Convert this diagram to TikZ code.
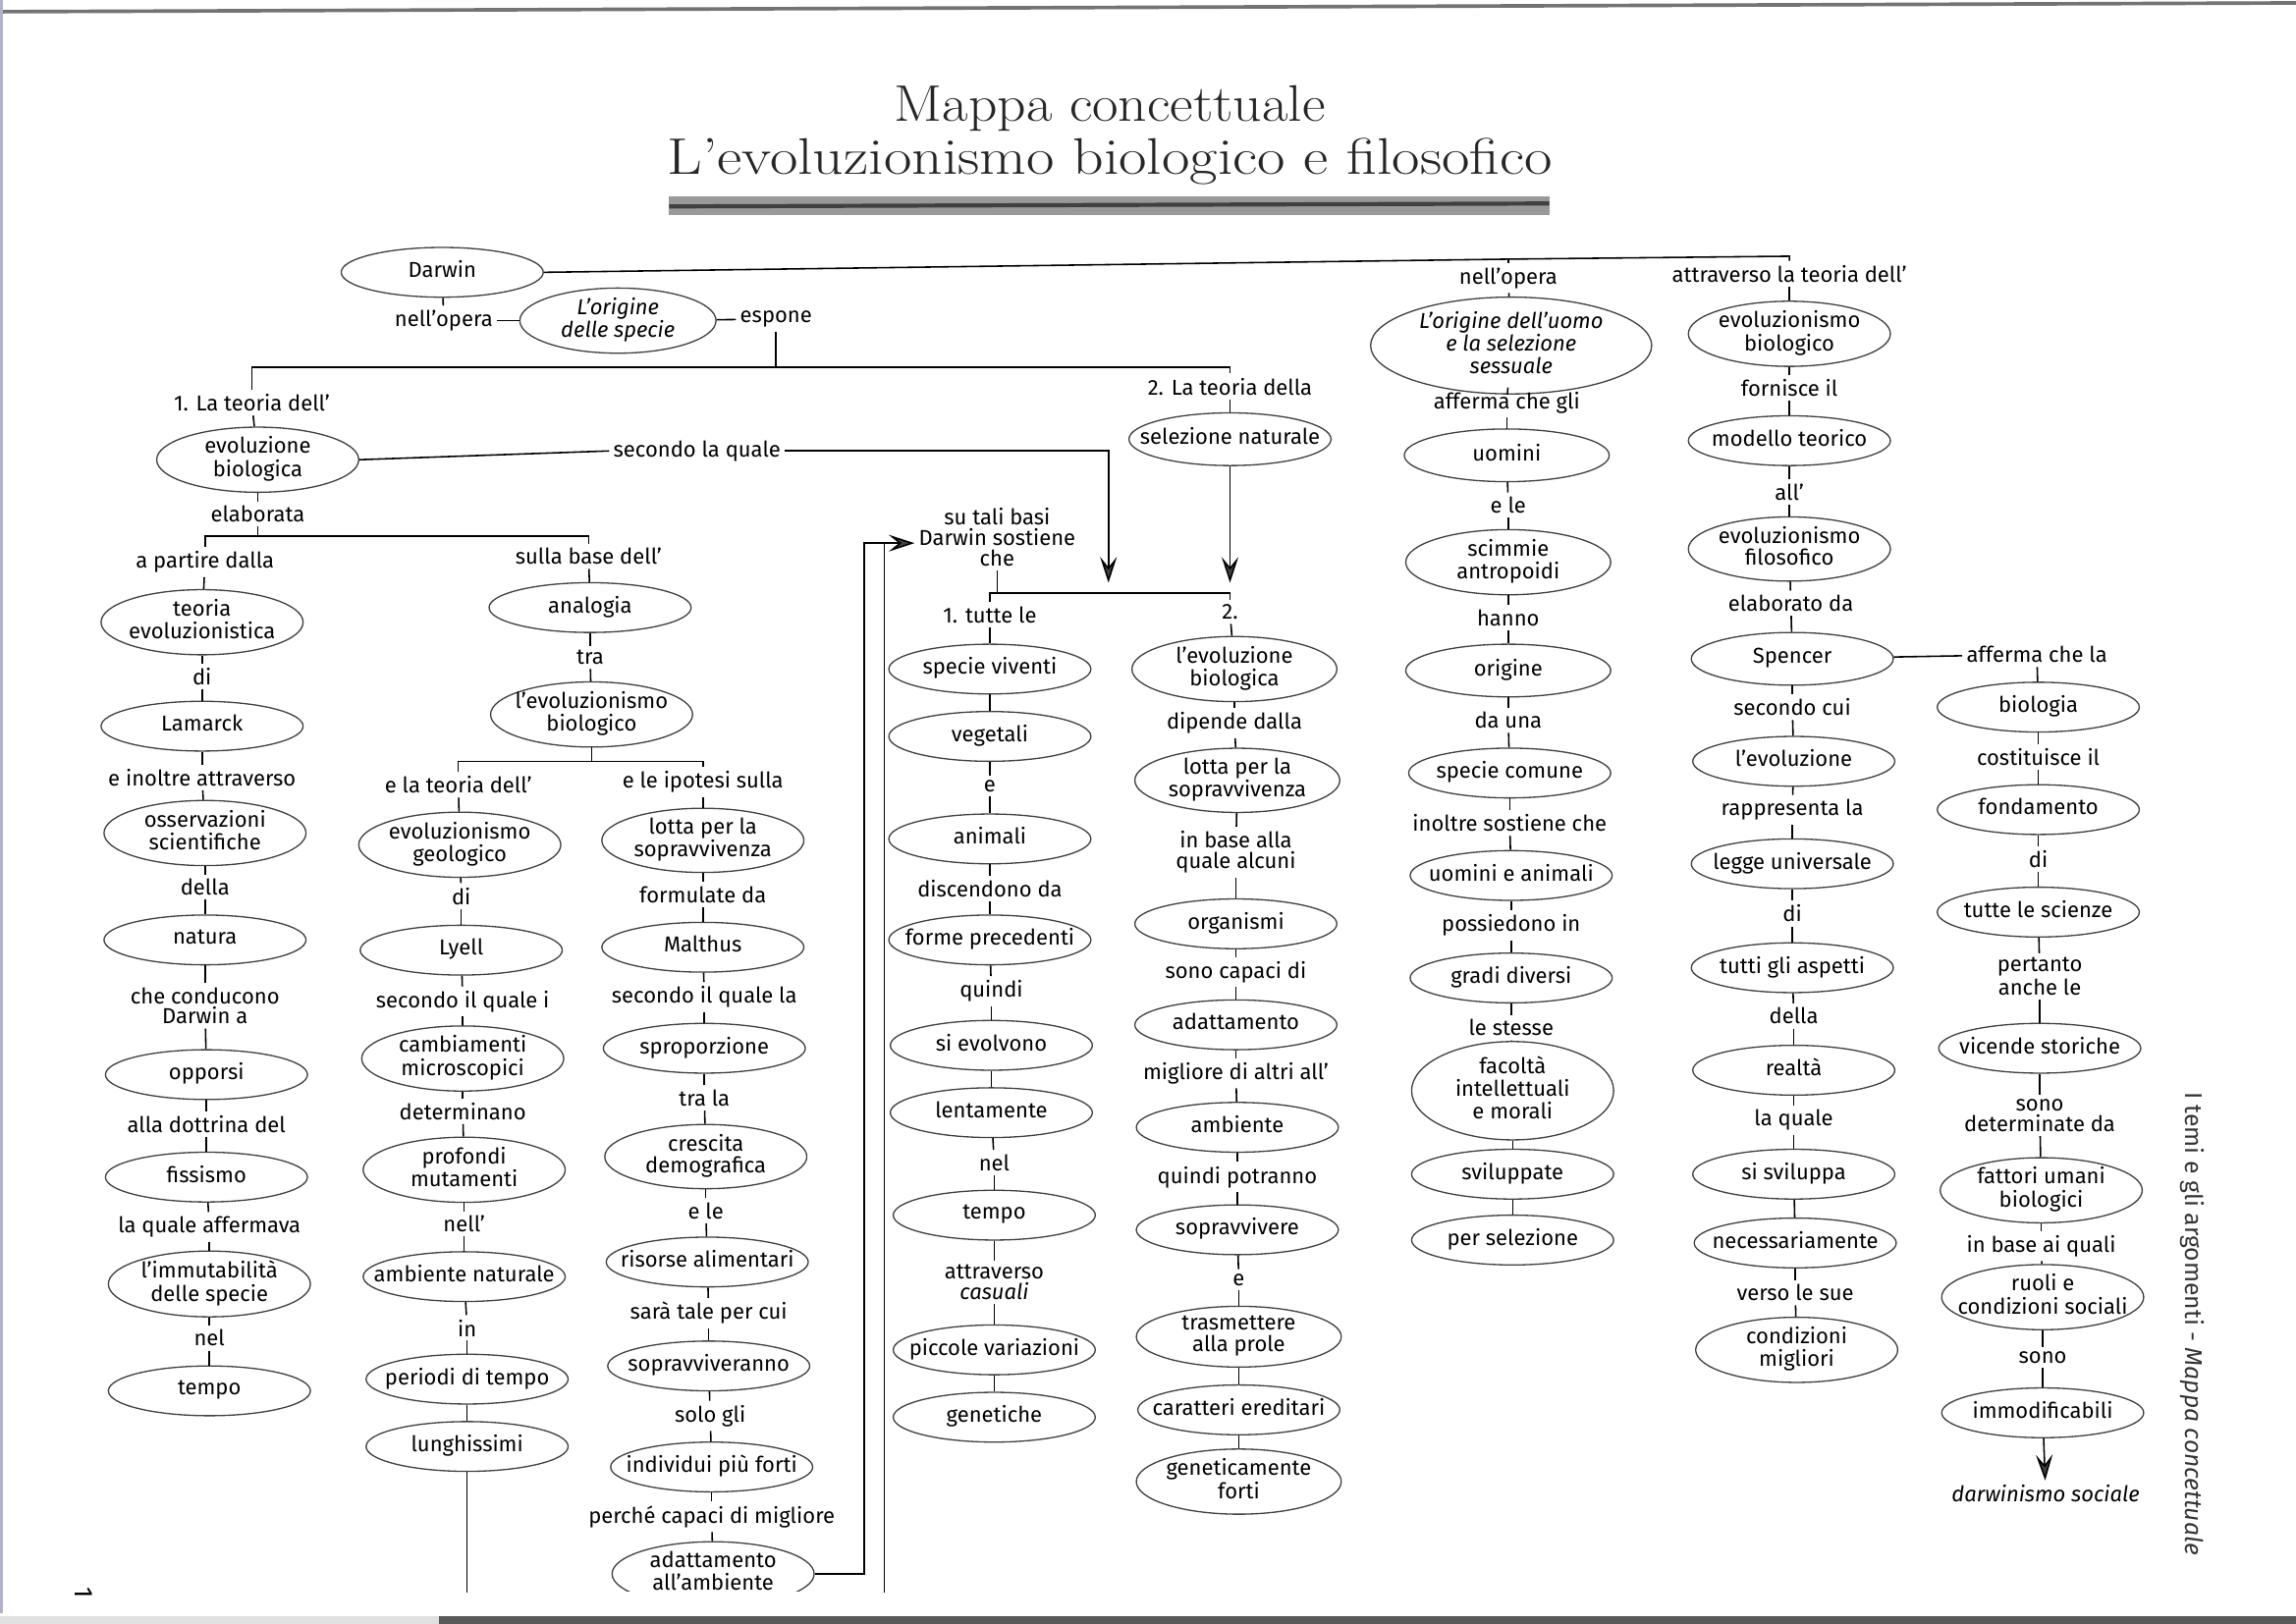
\documentclass[tikz,border=0pt]{standalone}
\usepackage{fontspec}
\usetikzlibrary{shapes.geometric,arrows.meta}
\newfontfamily\fira{Fira Sans}
\newcommand\lf{\fira\fontsize{8.4}{8}\selectfont}
\newcommand\E[1]{\makebox[0pt]{\begin{tabular}{@{}c@{}}#1\end{tabular}}}
\tikzset{
  ell/.style={ellipse, draw=black!75, line width=0.5pt, inner sep=0pt,
    minimum width=2.76cm, minimum height=0.68cm, font=\lf},
  ell2/.style={ell, minimum height=0.82cm},
  lab/.style={inner sep=1.5pt, align=center, font=\lf},
  con/.style={draw=black, line width=0.6pt},
  arr/.style={con, -{Stealth[length=10pt,width=6.5pt,inset=4pt,fill=black!75]}},
  ttl/.style={anchor=base, font=\fontsize{20}{24}\selectfont, text=black!85, inner sep=0pt},
}
\begin{document}
\begin{tikzpicture}[x=0.02cm, y=-0.02cm]
\useasboundingbox (0,0) rectangle (1568,1109);
\fill[white] (0,0) rectangle (1568,1109);
% scan edges
\draw[black!55, line width=1.4pt] (0,8) -- (1568,2);
\fill[black!12] (0,1104) rectangle (300,1109);
\fill[black!65] (300,1104) rectangle (1568,1109);
\draw[blue!30!black!30, line width=0.8pt] (1,0) -- (1,1102);
% title
\node[ttl] (t1) at (758,83) {\scalebox{1.1}[1]{Mappa concettuale}};
\node[ttl] (t2) at (758,119) {\scalebox{1.18}[1]{L’evoluzionismo biologico e filosofico}};
\fill[black!40] (457,134) rectangle (1058,147);
\draw[black!75, line width=1.6pt] (457,141) -- (1058,139);
% side text and page number
\node[rotate=-90, font=\fira\fontsize{9.4}{12}\selectfont, text=black!80] (side) at (1497,904) {I temi e gli argomenti - \textit{Mappa concettuale}};
\node[rotate=-90, font=\fira\fontsize{10}{12}\selectfont] (pg) at (57,1088) {1};

% ---- top
\node[ell] (A0) at (302,186) {\E{Darwin}};
\node[lab] (no1) at (303,219) {nell’opera};
\node[ell, minimum width=2.68cm, minimum height=0.76cm] (ods) at (422,219) {\E{\itshape L’origine\\\itshape delle specie}};
\node[lab] (esp) at (530,218) {espone};
\node[lab] (lt1) at (172,275) {1. La teoria dell’};
\node[lab] (lt2) at (840,264) {2. La teoria della};
\node[ell, minimum height=0.72cm] (seln) at (840,300) {\E{selezione naturale}};

% ---- column A
\node[ell2] (evob) at (176,314) {\E{evoluzione\\biologica}};
\node[lab] (sql) at (476,308) {secondo la quale};
\node[lab] (elab) at (176,351) {elaborata};
\node[lab] (apd) at (140,384) {a partire dalla};
\node[ell2, minimum height=0.84cm] (teoev) at (138,425) {\E{teoria\\evoluzionistica}};
\node[lab] (di1) at (138,462) {di};
\node[ell] (lam) at (138,496) {\E{Lamarck}};
\node[lab] (eina) at (138,531) {e inoltre attraverso};
\node[ell2] (oss) at (140,569) {\E{osservazioni\\scientifiche}};
\node[lab] (della1) at (140,606) {della};
\node[ell] (nat) at (140,642) {\E{natura}};
\node[lab] (chec) at (140,687) {che conducono\\Darwin a};
\node[ell] (opp) at (141,734) {\E{opporsi}};
\node[lab] (alla) at (141,768) {alla dottrina del};
\node[ell] (fis) at (141,804) {\E{fissismo}};
\node[lab] (lqa) at (143,838) {la quale affermava};
\node[ell2] (imm) at (143,877) {\E{l’immutabilità\\delle specie}};
\node[lab] (nel1) at (143,914) {nel};
\node[ell] (tem1) at (143,950) {\E{tempo}};

% ---- column B
\node[lab] (sbd) at (402,380) {sulla base dell’};
\node[ell] (ana) at (403,415) {\E{analogia}};
\node[lab] (tra) at (403,449) {tra};
\node[ell2] (evbi) at (404,488) {\E{l’evoluzionismo\\biologico}};
\node[lab] (elt) at (313,536) {e la teoria dell’};
\node[ell2] (evg) at (314,577) {\E{evoluzionismo\\geologico}};
\node[lab] (di2) at (315,612) {di};
\node[ell] (lye) at (315,649) {\E{Lyell}};
\node[lab] (sqi) at (316,684) {secondo il quale i};
\node[ell2] (cam) at (316,723) {\E{cambiamenti\\microscopici}};
\node[lab] (det) at (316,759) {determinano};
\node[ell2] (pro) at (317,799) {\E{profondi\\mutamenti}};
\node[lab] (nell) at (317,836) {nell’};
\node[ell] (amb) at (317,872) {\E{ambiente naturale}};
\node[lab] (in1) at (319,907) {in};
\node[ell] (per) at (319,942) {\E{periodi di tempo}};
\node[ell] (lun) at (319,988) {\E{lunghissimi}};

% ---- column C
\node[lab] (elis) at (480,534) {e le ipotesi sulla};
\node[ell2] (lps) at (480,574) {\E{lotta per la\\sopravvivenza}};
\node[lab] (fda) at (480,611) {formulate da};
\node[ell] (mal) at (480,647) {\E{Malthus}};
\node[lab] (sql2) at (481,681) {secondo il quale la};
\node[ell] (spr) at (481,716) {\E{sproporzione}};
\node[lab] (tral) at (481,750) {tra la};
\node[ell2] (cre) at (482,790) {\E{crescita\\demografica}};
\node[lab] (ele) at (482,827) {e le};
\node[ell] (ris) at (483,862) {\E{risorse alimentari}};
\node[lab] (star) at (484,897) {sarà tale per cui};
\node[ell] (sop) at (484,933) {\E{sopravviveranno}};
\node[lab] (solo) at (485,967) {solo gli};
\node[ell] (ind) at (486,1002) {\E{individui più forti}};
\node[lab] (pcm) at (486,1036) {perché capaci di migliore};
\begin{scope}
\clip (0,0) rectangle (1568,1087);
\node[ell2] (ada) at (487,1075) {\E{adattamento\\all’ambiente}};
\end{scope}

% ---- column D1
\node[lab] (stb) at (681,367) {su tali basi\\Darwin sostiene\\che};
\node[lab] (tul) at (676,420) {1. tutte le};
\node[ell] (spv) at (676,457) {\E{specie viventi}};
\node[ell] (veg) at (676,503) {\E{vegetali}};
\node[lab] (e1) at (676,537) {e};
\node[ell] (ani) at (676,573) {\E{animali}};
\node[lab] (dda) at (676,607) {discendono da};
\node[ell] (fpr) at (676,642) {\E{forme precedenti}};
\node[lab] (qui) at (677,677) {quindi};
\node[ell] (sie) at (677,714) {\E{si evolvono}};
\node[ell] (len) at (677,760) {\E{lentamente}};
\node[lab] (nel2) at (679,794) {nel};
\node[ell] (tem2) at (679,830) {\E{tempo}};
\node[lab] (att) at (679,876) {attraverso\\\textit{casuali}};
\node[ell] (pic) at (679,922) {\E{piccole variazioni}};
\node[ell] (gen) at (679,968) {\E{genetiche}};

% ---- column D2
\node[lab] (d2) at (840,418) {2.};
\node[ell2, minimum width=2.8cm, minimum height=0.84cm] (levb) at (843,457) {\E{l’evoluzione\\biologica}};
\node[lab] (ddl) at (843,494) {dipende dalla};
\node[ell2, minimum width=2.8cm] (lps2) at (845,533) {\E{lotta per la\\sopravvivenza}};
\node[lab] (iba) at (844,582) {in base alla\\quale alcuni};
\node[ell] (org) at (844,631) {\E{organismi}};
\node[lab] (scd) at (844,664) {sono capaci di};
\node[ell] (adt) at (844,700) {\E{adattamento}};
\node[lab] (mda) at (844,733) {migliore di altri all’};
\node[ell] (amb2) at (845,770) {\E{ambiente}};
\node[lab] (qp) at (845,804) {quindi potranno};
\node[ell] (sopv) at (845,840) {\E{sopravvivere}};
\node[lab] (e2) at (846,874) {e};
\node[ell2, minimum width=2.8cm] (tras) at (846,913) {\E{trasmettere\\alla prole}};
\node[ell] (car) at (846,963) {\E{caratteri ereditari}};
\node[ell2, minimum width=2.8cm, minimum height=0.84cm] (gef) at (846,1012) {\E{geneticamente\\forti}};

% ---- column E
\node[lab] (no2) at (1030,190) {nell’opera};
\node[ell, minimum width=3.84cm, minimum height=1.16cm] (odu) at (1032,236) {\E{\itshape L’origine dell’uomo\\\itshape e la selezione\\\itshape sessuale}};
\node[lab] (acg) at (1029,275) {afferma che gli};
\node[ell, minimum width=2.8cm, minimum height=0.72cm] (uom) at (1029,311) {\E{uomini}};
\node[lab] (ele2) at (1030,345) {e le};
\node[ell2, minimum width=2.8cm, minimum height=0.84cm] (sci) at (1030,384) {\E{scimmie\\antropoidi}};
\node[lab] (han) at (1030,422) {hanno};
\node[ell, minimum width=2.8cm, minimum height=0.72cm] (ori) at (1030,458) {\E{origine}};
\node[lab] (dau) at (1030,492) {da una};
\node[ell] (spc) at (1031,528) {\E{specie comune}};
\node[lab] (isc) at (1031,562) {inoltre sostiene che};
\node[ell] (uea) at (1032,598) {\E{uomini e animali}};
\node[lab] (pin) at (1032,632) {possiedono in};
\node[ell] (gd) at (1032,668) {\E{gradi diversi}};
\node[lab] (les) at (1032,702) {le stesse};
\node[ell, minimum height=1.12cm] (fac) at (1033,745) {\E{facoltà\\intellettuali\\e morali}};
\node[ell] (svi) at (1033,802) {\E{sviluppate}};
\node[ell] (pse) at (1033,847) {\E{per selezione}};

% ---- column F
\node[lab] (atl) at (1222,187) {attraverso la teoria dell’};
\node[ell2] (evb2) at (1222,228) {\E{evoluzionismo\\biologico}};
\node[lab] (fil) at (1222,265) {fornisce il};
\node[ell] (mod) at (1222,301) {\E{modello teorico}};
\node[lab] (all) at (1222,336) {all’};
\node[ell2] (evf) at (1222,375) {\E{evoluzionismo\\filosofico}};
\node[lab] (eld) at (1223,412) {elaborato da};
\node[ell, minimum height=0.72cm] (spe) at (1224,450) {\E{Spencer}};
\node[lab] (sc) at (1224,483) {secondo cui};
\node[ell] (lev) at (1225,520) {\E{l’evoluzione}};
\node[lab] (rla) at (1224,553) {rappresenta la};
\node[ell] (leg) at (1224,590) {\E{legge universale}};
\node[lab] (di3) at (1224,624) {di};
\node[ell] (tga) at (1224,661) {\E{tutti gli aspetti}};
\node[lab] (della2) at (1225,694) {della};
\node[ell] (rea) at (1225,731) {\E{realtà}};
\node[lab] (lq) at (1225,765) {la quale};
\node[ell] (ssv) at (1225,802) {\E{si sviluppa}};
\node[ell] (nec) at (1226,849) {\E{necessariamente}};
\node[lab] (vls) at (1226,883) {verso le sue};
\node[ell2, minimum height=0.84cm] (cm) at (1227,922) {\E{condizioni\\migliori}};

% ---- column G
\node[lab] (acl) at (1391,447) {afferma che la};
\node[ell] (bio) at (1392,483) {\E{biologia}};
\node[lab] (cil) at (1392,517) {costituisce il};
\node[ell] (fon) at (1392,553) {\E{fondamento}};
\node[lab] (di4) at (1392,587) {di};
\node[ell] (tls) at (1392,623) {\E{tutte le scienze}};
\node[lab] (pal) at (1393,667) {pertanto\\anche le};
\node[ell] (vst) at (1393,716) {\E{vicende storiche}};
\node[lab] (sdd) at (1393,762) {sono\\determinate da};
\node[ell2] (fub) at (1394,813) {\E{fattori umani\\biologici}};
\node[lab] (ibq) at (1394,851) {in base ai quali};
\node[ell2] (rcs) at (1395,886) {\E{ruoli e\\condizioni sociali}};
\node[lab] (sono) at (1395,927) {sono};
\node[ell] (imd) at (1395,965) {\E{immodificabili}};
\node[lab] (ds) at (1397,1020) {\textit{darwinismo sociale}};

% ---- coordinates
\coordinate (busA) at (0,251);
\coordinate (busB) at (0,366);
\coordinate (busC) at (0,520);
\coordinate (busD) at (0,405);
\coordinate (rMid) at (1030,177);
\coordinate (rEnd) at (1222,175);
\coordinate (tipA) at (757,398);
\coordinate (retC) at (590,371);
\coordinate (outB) at (604,1088);

% ---- connectors
\draw[con] (A0.east) -- (rMid) -- (rEnd) -- (atl.north);
\draw[con] (rMid) -- (no2.north);
\draw[con] (A0) -- (no1);
\draw[con] (no1) -- (ods);
\draw[con] (ods) -- (esp);
\draw[con] (esp.south) -- (esp.south |- busA);
\draw[con] (lt1.north) -- (lt1.north |- busA) -| (lt2.north);
\draw[con] (evob.east) -- (sql.west);
\draw[arr] (sql.east) -| (tipA);
\draw[arr] (seln.south) -- (seln.south |- tipA);
\draw[con] (elab) -- (elab |- busB);
\draw[con] (apd.north) -- (apd.north |- busB) -| (sbd.north);
\draw[con] (evbi) -- (evbi |- busC);
\draw[con] (elt.north) -- (elt.north |- busC) -| (elis.north);
\draw[con] (stb) -- (stb |- busD);
\draw[con] (tul.north) -- (tul.north |- busD) -| (d2.north);
\draw[arr] (ada.east) -| (retC) -- (stb.west |- retC);
\draw[con] (outB) -- (outB |- retC);
\draw[con] (lun) -- (lun |- outB);
\draw[con] (spe) -- (acl);
\draw[arr] (imd) -- (ds);
\foreach \a/\b in {lt1/evob, evob/elab, apd/teoev, teoev/di1, di1/lam, lam/eina, eina/oss,
  oss/della1, della1/nat, nat/chec, chec/opp, opp/alla, alla/fis, fis/lqa, lqa/imm, imm/nel1, nel1/tem1,
  sbd/ana, ana/tra, tra/evbi, elt/evg, evg/di2, di2/lye, lye/sqi, sqi/cam, cam/det, det/pro, pro/nell,
  nell/amb, amb/in1, in1/per, per/lun,
  elis/lps, lps/fda, fda/mal, mal/sql2, sql2/spr, spr/tral, tral/cre, cre/ele, ele/ris, ris/star,
  star/sop, sop/solo, solo/ind, ind/pcm, pcm/ada,
  tul/spv, spv/veg, veg/e1, e1/ani, ani/dda, dda/fpr, fpr/qui, qui/sie, sie/len, len/nel2, nel2/tem2,
  tem2/att, att/pic, pic/gen,
  lt2/seln, d2/levb, levb/ddl, ddl/lps2, lps2/iba, iba/org, org/scd, scd/adt, adt/mda, mda/amb2,
  amb2/qp, qp/sopv, sopv/e2, e2/tras, tras/car, car/gef,
  no2/odu, odu/acg, acg/uom, uom/ele2, ele2/sci, sci/han, han/ori, ori/dau, dau/spc, spc/isc, isc/uea,
  uea/pin, pin/gd, gd/les, les/fac, fac/svi, svi/pse,
  atl/evb2, evb2/fil, fil/mod, mod/all, all/evf, evf/eld, eld/spe, spe/sc, sc/lev, lev/rla, rla/leg,
  leg/di3, di3/tga, tga/della2, della2/rea, rea/lq, lq/ssv, ssv/nec, nec/vls, vls/cm,
  acl/bio, bio/cil, cil/fon, fon/di4, di4/tls, tls/pal, pal/vst, vst/sdd, sdd/fub, fub/ibq, ibq/rcs,
  rcs/sono, sono/imd}
  \draw[con] (\a) -- (\b);
\end{tikzpicture}
\end{document}
